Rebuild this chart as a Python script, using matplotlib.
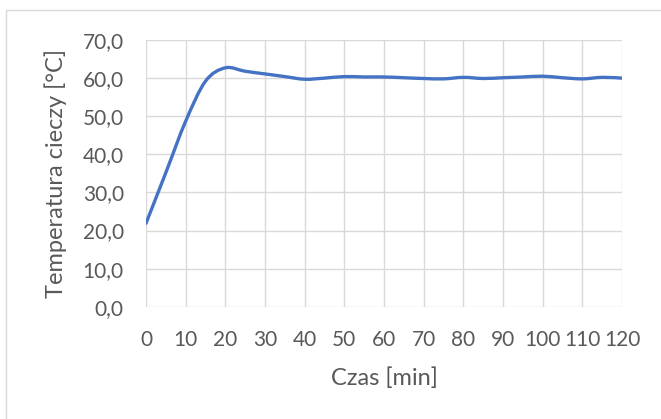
import numpy as np
import matplotlib
matplotlib.use("Agg")
import matplotlib.pyplot as plt
from matplotlib.path import Path
from matplotlib.patches import PathPatch, Rectangle
from matplotlib.ticker import FuncFormatter

# time [min] and liquid temperature [°C]
czas = [0, 5, 10, 15, 20, 25, 30, 35, 40, 45, 50, 55, 60,
        65, 70, 75, 80, 85, 90, 95, 100, 105, 110, 115, 120]
temperatura = [21.9, 35.2, 48.7, 59.2, 62.7, 61.8, 61.1, 60.4, 59.7, 60.0, 60.4, 60.3, 60.3,
               60.1, 59.9, 59.8, 60.2, 59.9, 60.1, 60.3, 60.5, 60.1, 59.8, 60.2, 60.0]
x_ticks = list(range(0, 121, 10))
y_ticks = list(range(0, 71, 10))

plt.rcParams["font.family"] = ["Lato", "DejaVu Sans"]
tick_size, label_size = 15, 17

text_color = "#595959"
grid_color = "#d9d9d9"

fig = plt.figure(figsize=(6.61, 4.19), dpi=100)
ax = fig.add_axes([0.2209, 0.268, 0.7201, 0.6365])

# smoothed line like Excel (bezier through the points)
pts = np.column_stack([czas, temperatura])
verts = [pts[0]]
codes = [Path.MOVETO]
for i in range(len(pts) - 1):
    p0 = pts[i - 1] if i > 0 else pts[i]
    p1 = pts[i]
    p2 = pts[i + 1]
    p3 = pts[i + 2] if i + 2 < len(pts) else pts[i + 1]
    verts += [p1 + (p2 - p0) / 6, p2 - (p3 - p1) / 6, p2]
    codes += [Path.CURVE4] * 3
ax.add_patch(PathPatch(Path(verts, codes), facecolor="none", edgecolor="#4472C4",
                       lw=2.4, capstyle="round", joinstyle="round", zorder=3))

ax.set_xlim(0, 120)
ax.set_ylim(0, 70)
ax.set_xticks(x_ticks)
ax.set_yticks(y_ticks)
ax.yaxis.set_major_formatter(FuncFormatter(lambda v, p: f"{v:.1f}".replace(".", ",")))
ax.grid(True, color=grid_color, lw=1.0)
ax.set_axisbelow(True)
for s in ax.spines.values():
    s.set_visible(False)
ax.tick_params(length=0, colors=text_color, labelsize=tick_size)
ax.tick_params(axis="x", pad=17)
ax.tick_params(axis="y", pad=16)

ax.set_xlabel("Czas [min]", fontsize=label_size, color=text_color, labelpad=12)
ax.set_ylabel("Temperatura cieczy [°C]", fontsize=label_size, color=text_color, labelpad=11)

# chart border
fig.patches.append(Rectangle((6 / 661, -0.2), 1.5, 1.2 - 10 / 419,
                             transform=fig.transFigure, fill=False,
                             edgecolor=grid_color, lw=1.0))

fig.savefig("out.png", dpi=100)
